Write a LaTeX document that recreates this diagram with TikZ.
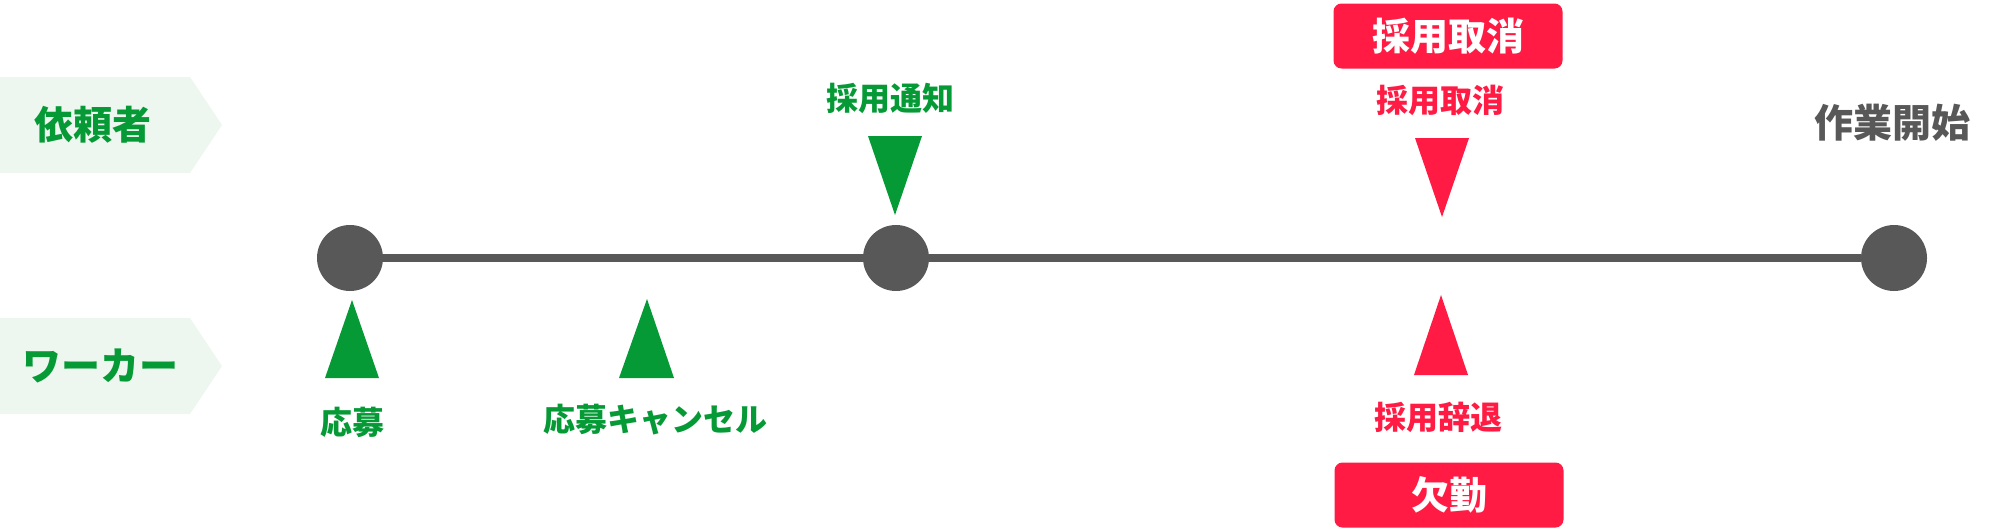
\documentclass[tikz,border=0pt]{standalone}
\usepackage{fontspec}
\setmainfont{Noto Sans CJK JP}
\definecolor{okgreen}{HTML}{069A37}
\definecolor{bandgreen}{HTML}{EEF7EF}
\definecolor{ngred}{HTML}{FF1B43}
\definecolor{dotgray}{HTML}{585858}
\tikzset{
  role/.style={font=\fontsize{19.5}{20}\selectfont\bfseries, text=okgreen},
  event/.style={font=\fontsize{16}{18}\selectfont\bfseries},
  dot/.style={circle, fill=dotgray, minimum size=33pt, inner sep=0pt},
  tag/.style={rounded corners=4pt, fill=ngred, text=white, font=\fontsize{19}{20}\selectfont\bfseries, minimum width=114.5pt, minimum height=32.5pt}
}
\begin{document}
\begin{tikzpicture}[x=0.5pt,y=-0.5pt]
        \useasboundingbox (0,0) rectangle (2000,530);
        % bands
        \fill[bandgreen] (0,77) -- (190,77) -- (222,125) -- (190,173) -- (0,173) -- cycle;
        \fill[bandgreen] (0,318) -- (190,318) -- (222,366) -- (190,414) -- (0,414) -- cycle;
        \node[role] (client) at (93,125) {依頼者};
        \node[role] (worker) at (100,366) {ワーカー};
        % timeline
        \node[dot] (d1) at (350,258) {};
        \node[dot] (d2) at (896,258) {};
        \node[dot] (d3) at (1894,258) {};
        \draw[dotgray,line width=4pt] (d1) -- (d2);
        \draw[dotgray,line width=4pt] (d2) -- (d3);
        \node[event,text=dotgray,font=\fontsize{19.5}{20}\selectfont\bfseries] (start) at (1892,123) {作業開始};
        % green marks
        \fill[okgreen] (325,378) -- (379,378) -- (352,300) -- cycle;
        \fill[okgreen] (619,378) -- (674,378) -- (647,299) -- cycle;
        \fill[okgreen] (868,136) -- (922,136) -- (895,215) -- cycle;
        \node[event,text=okgreen] (apply) at (352,422) {応募};
        \node[event,text=okgreen] (cancel) at (655,420) {応募キャンセル};
        \node[event,text=okgreen] (notice) at (890,98) {採用通知};
        % red marks
        \fill[ngred] (1415,138) -- (1469,138) -- (1442,217) -- cycle;
        \fill[ngred] (1414,375) -- (1468,375) -- (1441,295) -- cycle;
        \node[event,text=ngred] (revoke) at (1440,100) {採用取消};
        \node[event,text=ngred] (decline) at (1438,417) {採用辞退};
        \node[tag] (revoketag) at (1448,36) {採用取消};
        \node[tag] (absent) at (1449,495) {欠勤};
\end{tikzpicture}
\end{document}
